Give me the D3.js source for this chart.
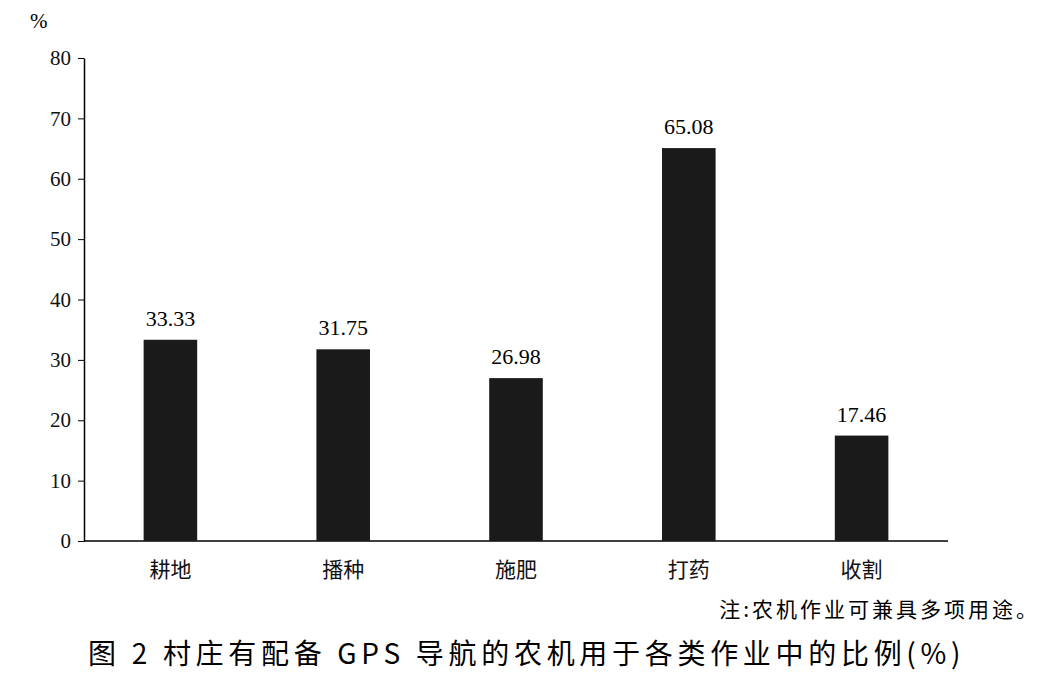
<!DOCTYPE html><html><head><meta charset="utf-8"><script src="https://cdn.jsdelivr.net/npm/d3@7"></script>
<style>body{margin:0;background:#fff}</style></head><body><svg id="c" width="1052" height="690"></svg>
<script>
const categories=["耕地","播种","施肥","打药","收割"];
const values=[33.33,31.75,26.98,65.08,17.46];
const yTicks=[0,10,20,30,40,50,60,70,80];
const svg=d3.select("#c");
const x=d3.scaleBand().domain(categories).range([84,948]).paddingInner(0.69).paddingOuter(0.345);
const y=d3.scaleLinear().domain([0,80]).range([541,58]);
const serif="'Liberation Serif','Times New Roman',serif";
const cjk="'Noto Sans CJK SC',sans-serif";
const ya=svg.append("g").attr("transform","translate(84,0)").call(d3.axisLeft(y).tickValues(yTicks).tickSize(6).tickSizeOuter(0));
ya.selectAll("text").attr("font-family",serif).attr("font-size",21).attr("fill","#111").attr("dx","-4");
ya.select(".domain").attr("stroke","#000").attr("stroke-width",1.5);
const xa=svg.append("g").attr("transform","translate(0,541)").call(d3.axisBottom(x).tickSize(0).tickSizeOuter(0));
xa.select(".domain").attr("stroke","#000").attr("stroke-width",1.5).attr("d","M84,0H948");
xa.selectAll("text").attr("font-family",cjk).attr("font-size",21).attr("fill","#111").attr("dy","1.55em");
svg.selectAll("rect.b").data(values).enter().append("rect").attr("fill","#1a1a1a")
 .attr("x",(d,i)=>x(categories[i])).attr("width",x.bandwidth()).attr("y",d=>y(d)).attr("height",d=>541-y(d));
svg.selectAll("text.v").data(values).enter().append("text").attr("font-family",serif).attr("font-size",22).attr("text-anchor","middle")
 .attr("x",(d,i)=>x(categories[i])+x.bandwidth()/2).attr("y",d=>y(d)-14).text(d=>d.toFixed(2));
svg.append("text").attr("x",30).attr("y",28).attr("font-family",serif).attr("font-size",21).text("%");
svg.append("text").attr("x",1040).attr("y",617).attr("text-anchor","end").attr("font-family",cjk).attr("font-size",21).attr("letter-spacing",3).text("注:农机作业可兼具多项用途。");
svg.append("text").attr("x",88).attr("y",664).attr("font-family",cjk).attr("font-size",28).attr("letter-spacing",4.7).text("图 2  村庄有配备 GPS 导航的农机用于各类作业中的比例(%)");
</script></body></html>
